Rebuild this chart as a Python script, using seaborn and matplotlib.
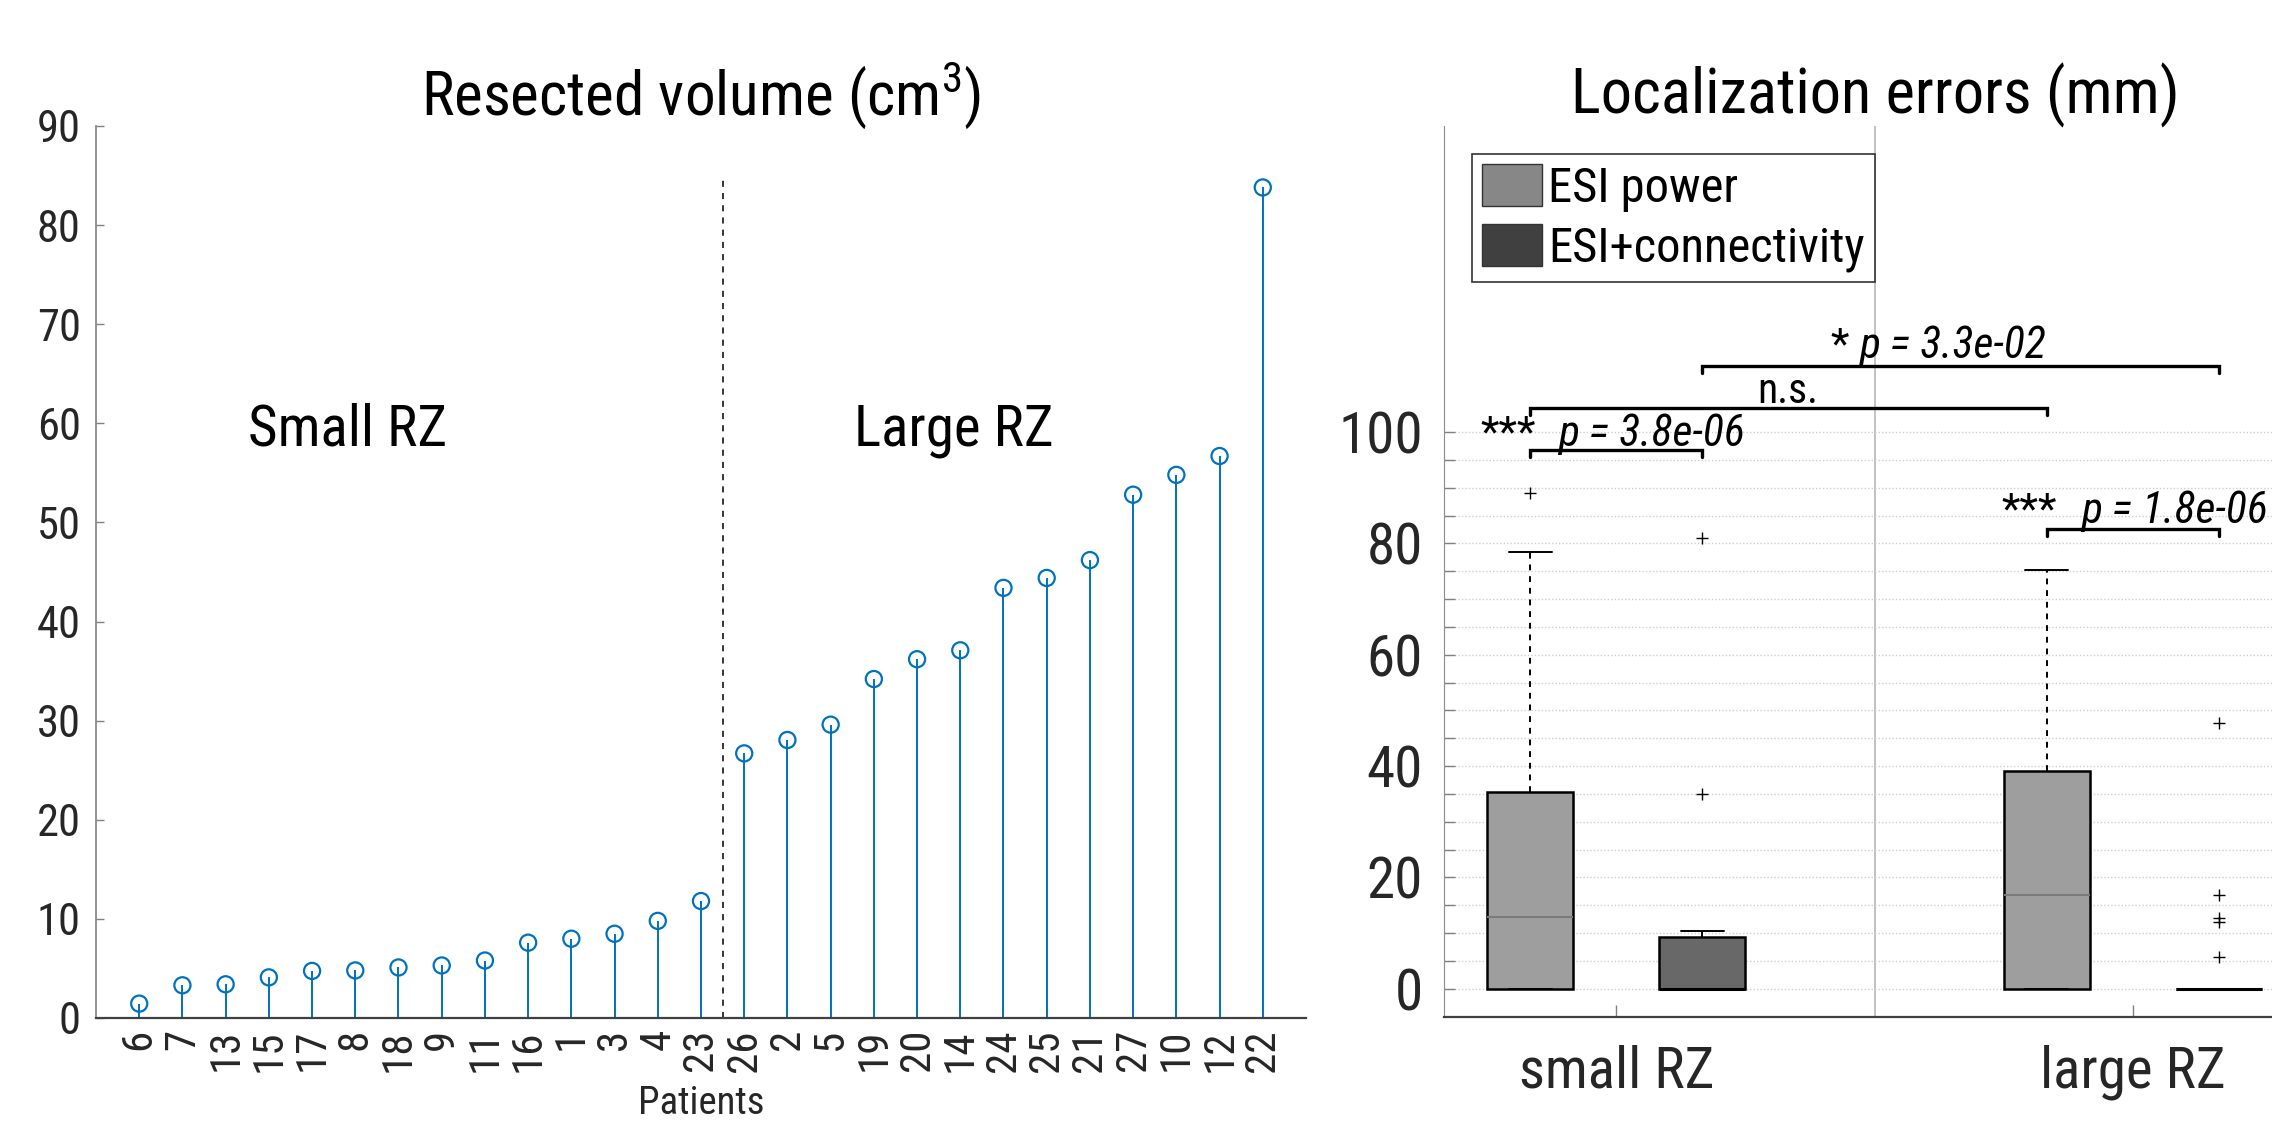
import numpy as np
import pandas as pd
import matplotlib
matplotlib.use("Agg")
import matplotlib.pyplot as plt
import seaborn as sns
from matplotlib import font_manager
from matplotlib.patches import Patch
from matplotlib.ticker import FixedLocator

# ---------------- data ----------------
patients = ['6', '7', '13', '15', '17', '8', '18', '9', '11', '16', '1', '3', '4', '23',
            '26', '2', '5', '19', '20', '14', '24', '25', '21', '27', '10', '12', '22']
volumes = [1.45, 3.3, 3.4, 4.1, 4.75, 4.8, 5.1, 5.3, 5.8, 7.6, 8.0, 8.5, 9.8, 11.8,
           26.7, 28.05, 29.6, 34.2, 36.2, 37.1, 43.4, 44.4, 46.2, 52.8, 54.8, 56.7, 83.8]
n_small = 14
group_text = ['Small RZ', 'Large RZ']

groups = ['small RZ', 'large RZ']
methods = ['ESI power', 'ESI+connectivity']
# box statistics, order: (small, power), (small, conn), (large, power), (large, conn)
box_q1 = [0.0, 0.0, 0.0, 0.0]
box_med = [12.8, 0.0, 16.9, 0.0]
box_q3 = [35.4, 9.3, 39.1, 0.0]
box_whislo = [0.0, 0.0, 0.0, 0.0]
box_whishi = [78.4, 10.3, 75.3, 0.0]
box_fliers = [[89.1], [35.0, 81.0], [], [47.8, 16.9, 12.7, 12.0, 5.7]]

# significance annotations: (box i, box j, stars, p-text)
sig_pairs = [(0, 1, '***', 'p = 3.8e-06'),
             (0, 2, 'n.s.', ''),
             (1, 3, '*', 'p = 3.3e-02'),
             (2, 3, '***', 'p = 1.8e-06')]

# ---------------- style ----------------
sns.set_style("white")
names = {f.name for f in font_manager.fontManager.ttflist}
FONT = None
for cand in ['Liberation Sans Narrow', 'Roboto Condensed', 'Open Sans Condensed',
             'Noto Sans Condensed', 'DejaVu Sans Condensed']:
    if cand in names:
        FONT = cand
        break
if FONT is None:
    FONT = 'DejaVu Sans'
    plt.rcParams['font.stretch'] = 'condensed'
plt.rcParams['font.family'] = [FONT, 'DejaVu Sans']
plt.rcParams['mathtext.fontset'] = 'custom'
plt.rcParams['mathtext.rm'] = FONT
plt.rcParams['text.color'] = 'black'

W, H = 2272, 1124
BLUE = '#0072BD'
fig = plt.figure(figsize=(W / 100, H / 100), dpi=100)

# ---------------- left: stem plot ----------------
ax1 = fig.add_axes([96 / W, 1 - 1018 / H, (1306 - 96) / W, (1018 - 126) / H])
xpos = np.arange(1, len(patients) + 1)
ax1.vlines(xpos, 0, volumes, color=BLUE, lw=1.4, zorder=2)
sns.scatterplot(x=xpos, y=volumes, ax=ax1, s=135, marker='o',
                facecolor='none', edgecolor=BLUE, linewidth=1.6, zorder=3)
ax1.set_xlim(0, len(patients) + 1)
ax1.set_ylim(0, 90)
ax1.set_yticks(np.arange(0, 91, 10))
ax1.set_xticks(xpos)
ax1.set_xticklabels(patients, rotation=90)
ax1.tick_params(axis='y', direction='in', length=6, width=1, color='#808080',
                labelsize=32, pad=11, left=True)
ax1.tick_params(axis='x', length=0, labelsize=31, pad=8, bottom=True)
for s in ['top', 'right']:
    ax1.spines[s].set_visible(False)
ax1.spines['left'].set_color('#808080')
ax1.spines['bottom'].set_color('#404040')
ax1.spines['left'].set_linewidth(1.2)
ax1.spines['bottom'].set_linewidth(1.6)
ax1.plot([n_small + 0.5, n_small + 0.5], [0, 85], color='black', lw=1.1,
         ls=(0, (4, 4)), zorder=1)
ax1.text(5.83, 57.8, group_text[0], ha='center', va='baseline', fontsize=41)
ax1.text(19.86, 57.8, group_text[1], ha='center', va='baseline', fontsize=41)
ax1.set_xlabel('Patients', fontsize=28, va='baseline')
ax1.xaxis.set_label_coords(0.5, -0.1076)
fig.text(701 / W, 1 - 115 / H, 'Resected volume (cm$^\\mathregular{3}$)',
         ha='center', va='baseline', fontsize=44)

# ---------------- right: boxplots ----------------
ax2 = fig.add_axes([1444 / W, 1 - 1016.5 / H, (2305 - 1444) / W, (1016.5 - 126) / H])
ax2.set_xlim(2 / 3, 7 / 3)
ax2.set_ylim(-5, 155)
offs = 1 / 6
positions = [g + o for g in (1, 2) for o in (-offs, offs)]
stats = []
for i in range(4):
    stats.append(dict(q1=box_q1[i], med=box_med[i], q3=box_q3[i],
                      whislo=box_whislo[i], whishi=box_whishi[i],
                      fliers=box_fliers[i]))
bp = ax2.bxp(stats, positions=positions, widths=offs, capwidths=offs / 2,
             patch_artist=True, showfliers=True, manage_ticks=False,
             boxprops=dict(edgecolor='black', linewidth=1.8),
             whiskerprops=dict(color='black', linewidth=1.4, linestyle=(0, (3, 3))),
             capprops=dict(color='black', linewidth=1.4),
             medianprops=dict(color='#7a7a7a', linewidth=1.4),
             flierprops=dict(marker='+', markeredgecolor='black', markersize=8,
                             markeredgewidth=1.0, linestyle='none'))
face = ['#9e9e9e', '#686868', '#9e9e9e', '#686868']
for i, b in enumerate(bp['boxes']):
    b.set_facecolor(face[i])
    b.set_zorder(2)
for i, m in enumerate(bp['medians']):
    if box_med[i] == box_q1[i]:
        m.set_color('black')
        m.set_linewidth(2.2)
for w in bp['whiskers']:
    w.set_zorder(1.8)

ax2.yaxis.set_major_locator(FixedLocator(np.arange(0, 101, 20)))
ax2.yaxis.set_minor_locator(FixedLocator(np.arange(0, 101, 5)))
ax2.grid(which='both', axis='y', color='#cfcfcf', linestyle=(0, (1, 1.5)), linewidth=1)
ax2.set_axisbelow(True)
ax2.axvline(1.5, color='#bdbdbd', lw=1.3, zorder=0.5)
ax2.set_xticks([1, 2])
ax2.set_xticklabels(groups)
ax2.tick_params(axis='y', which='both', direction='in', length=8, width=1,
                color='#808080', labelsize=41, pad=15, left=True)
ax2.tick_params(axis='x', direction='in', length=9, width=1, color='#808080',
                labelsize=41, pad=20, bottom=True)
for s in ['top', 'right']:
    ax2.spines[s].set_visible(False)
ax2.spines['left'].set_color('#8c8c8c')
ax2.spines['bottom'].set_color('#404040')
ax2.spines['bottom'].set_linewidth(1.6)

# significance brackets
sig_y = [96.8, 104.3, 111.9, 82.6]
leg = 1.2
for k, (i, j, star, ptxt) in enumerate(sig_pairs):
    x0, x1 = positions[i], positions[j]
    y = sig_y[k]
    ax2.plot([x0, x0, x1, x1], [y - leg, y, y, y - leg], color='black', lw=2.4,
             solid_joinstyle='miter', zorder=4, clip_on=False)
# text positions (data coords)
ax2.text(0.845, 97.6, '***', ha='right', va='baseline', fontsize=31)
ax2.text(0.888, 97.5, sig_pairs[0][3], ha='left', va='baseline', fontsize=31.5, style='italic')
ax2.text(1.333, 105.3, 'n.s.', ha='center', va='baseline', fontsize=30)
ax2.text(1.450, 113.4, '*', ha='right', va='baseline', fontsize=31)
ax2.text(1.471, 113.3, sig_pairs[2][3], ha='left', va='baseline', fontsize=31.5, style='italic')
ax2.text(1.853, 83.8, '***', ha='right', va='baseline', fontsize=31)
ax2.text(1.899, 83.7, sig_pairs[3][3], ha='left', va='baseline', fontsize=31.5, style='italic')

handles = [Patch(facecolor='#878787', edgecolor='#333333', linewidth=1),
           Patch(facecolor='#404040', edgecolor='#333333', linewidth=1)]
lg = ax2.legend(handles, methods, loc='upper left', bbox_to_anchor=(1472 / W, 1 - 154 / H),
                bbox_transform=fig.transFigure, fontsize=35, frameon=True, fancybox=False,
                edgecolor='#333333', framealpha=1, borderpad=0.2, handlelength=1.25,
                handleheight=0.97, handletextpad=0.12, labelspacing=0.25, borderaxespad=0)
lg.get_frame().set_linewidth(1.2)

fig.text(1875 / W, 1 - 114 / H, 'Localization errors (mm)', ha='center', va='baseline',
         fontsize=45)

fig.savefig('out.png', dpi=100)
